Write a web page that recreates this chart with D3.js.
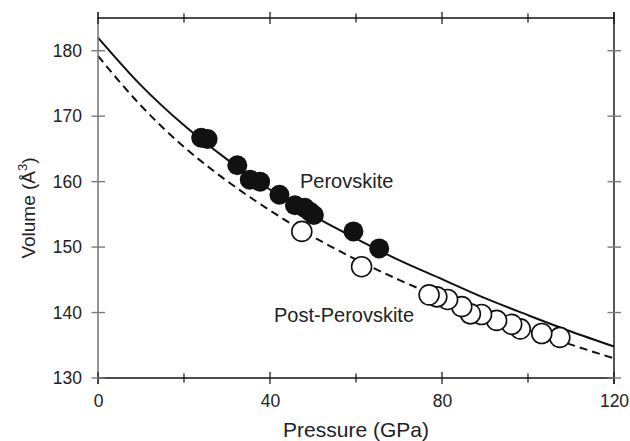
<!DOCTYPE html>
<html>
<head>
<meta charset="utf-8">
<script src="https://cdn.jsdelivr.net/npm/d3@7"></script>
<style>
  html, body { margin: 0; padding: 0; background: #fff; }
  svg { display: block; font-family: "Liberation Sans", Arial, sans-serif; }
</style>
</head>
<body>
<svg id="chart" width="630" height="441"></svg>
<script>
// Perovskite (filled) measurements: pressure GPa, volume Å^3
const pvPressure = [24.0, 25.5, 32.4, 35.3, 37.7, 42.2, 45.8, 48.1, 49.3, 50.2, 59.4, 65.4];
const pvVolume   = [166.7, 166.5, 162.5, 160.3, 160.0, 158.0, 156.4, 156.0, 155.4, 154.9, 152.4, 149.8];

// Post-perovskite (open) measurements
const ppvPressure = [47.4, 61.3, 77.0, 78.8, 81.3, 84.6, 86.6, 89.2, 92.7, 96.2, 98.2, 103.2, 107.4];
const ppvVolume   = [152.4, 147.0, 142.7, 142.4, 142.0, 140.9, 139.8, 139.7, 138.8, 138.2, 137.5, 136.8, 136.2];

// fitted curves
const curveP      = [0, 10, 20, 30, 40, 50, 60, 70, 80, 90, 100, 110, 120];
const pvCurveV    = [182.0, 174.7, 168.6, 163.4, 158.8, 154.8, 151.3, 148.0, 145.1, 142.2, 139.6, 137.1, 134.8];
const ppvCurveV   = [179.2, 171.6, 165.3, 160.1, 155.6, 151.6, 148.1, 145.0, 142.2, 139.6, 137.3, 135.1, 133.0];

const xTicks = [0, 20, 40, 60, 80, 100, 120];
const xLabels = [0, 40, 80, 120];
const yTicks = [130, 140, 150, 160, 170, 180];

const svg = d3.select("#chart");
const mLeft = 98, mRight = 614, mTop = 18, mBottom = 378;

const x = d3.scaleLinear().domain([0, 120]).range([mLeft, mRight]);
const y = d3.scaleLinear().domain([130, 185]).range([mBottom, mTop]);

const ink = "#222";
const grey = "#7a7a7a";

// curves
const line = d3.line().x(d => x(d[0])).y(d => y(d[1])).curve(d3.curveMonotoneX);
svg.append("path")
  .datum(d3.zip(curveP, pvCurveV))
  .attr("d", line)
  .attr("fill", "none").attr("stroke", "#111").attr("stroke-width", 2);
svg.append("path")
  .datum(d3.zip(curveP, ppvCurveV))
  .attr("d", line)
  .attr("fill", "none").attr("stroke", "#111").attr("stroke-width", 2)
  .attr("stroke-dasharray", "8,5");

// points (lower pressure drawn last so it sits on top)
const ppv = d3.zip(ppvPressure, ppvVolume).reverse();
svg.append("g").selectAll("circle")
  .data(ppv)
  .join("circle")
  .attr("cx", d => x(d[0]))
  .attr("cy", d => y(d[1]))
  .attr("r", 10)
  .attr("fill", "#fff")
  .attr("stroke", "#111")
  .attr("stroke-width", 1.6);

svg.append("g").selectAll("circle")
  .data(d3.zip(pvPressure, pvVolume))
  .join("circle")
  .attr("cx", d => x(d[0]))
  .attr("cy", d => y(d[1]))
  .attr("r", 10)
  .attr("fill", "#111");

// frame
svg.append("line").attr("x1", mLeft).attr("x2", mLeft).attr("y1", mTop - 6).attr("y2", mBottom + 6)
  .attr("stroke", grey).attr("stroke-width", 1.6);
svg.append("line").attr("x1", mRight).attr("x2", mRight).attr("y1", mTop - 6).attr("y2", mBottom + 6)
  .attr("stroke", "#111").attr("stroke-width", 1.4);
svg.append("line").attr("x1", mLeft).attr("x2", mRight).attr("y1", mTop).attr("y2", mTop)
  .attr("stroke", "#111").attr("stroke-width", 1.4);
svg.append("line").attr("x1", mLeft).attr("x2", mRight).attr("y1", mBottom).attr("y2", mBottom)
  .attr("stroke", "#111").attr("stroke-width", 1.4);

// x ticks crossing top and bottom lines
const tickG = svg.append("g").attr("stroke", "#111").attr("stroke-width", 1.2);
for (const yy of [mTop, mBottom]) {
  tickG.selectAll(null)
    .data(xTicks)
    .join("line")
    .attr("x1", d => x(d)).attr("x2", d => x(d))
    .attr("y1", d => yy - (d % 40 === 0 ? 6 : 4.5))
    .attr("y2", d => yy + (d % 40 === 0 ? 6 : 4.5));
}
// y ticks crossing left and right lines
const yTickG = svg.append("g").attr("stroke", grey).attr("stroke-width", 1.4);
for (const xx of [mLeft, mRight]) {
  yTickG.selectAll(null)
    .data(yTicks)
    .join("line")
    .attr("x1", xx - 6.5).attr("x2", xx + 7)
    .attr("y1", d => y(d)).attr("y2", d => y(d));
}

// tick labels through d3 axes
const xAxis = svg.append("g")
  .attr("transform", `translate(0,${mBottom})`)
  .call(d3.axisBottom(x).tickValues(xLabels).tickSize(0).tickPadding(17).tickFormat(d3.format("d")));
const yAxis = svg.append("g")
  .attr("transform", `translate(${mLeft},0)`)
  .call(d3.axisLeft(y).tickValues(yTicks).tickSize(0).tickPadding(16).tickFormat(d3.format("d")));
for (const a of [xAxis, yAxis]) {
  a.select(".domain").remove();
  a.selectAll("text")
    .attr("fill", ink)
    .style("font-family", "'Liberation Sans', Arial, sans-serif")
    .style("font-size", "17.5px");
}

// axis titles
svg.append("text")
  .attr("x", (mLeft + mRight) / 2).attr("y", 437)
  .attr("text-anchor", "middle")
  .attr("fill", ink)
  .style("font-size", "21px")
  .text("Pressure (GPa)");

const yTitle = svg.append("text")
  .attr("transform", "translate(35,208) rotate(-90)")
  .attr("text-anchor", "middle")
  .attr("fill", ink)
  .style("font-size", "19px");
yTitle.append("tspan").text("Volume (Å");
yTitle.append("tspan").attr("dy", -8).style("font-size", "13px").text("3");
yTitle.append("tspan").attr("dy", 8).text(")");

// annotations
svg.append("text")
  .attr("x", 300).attr("y", 188)
  .attr("fill", ink)
  .style("font-size", "20px")
  .text("Perovskite");
svg.append("text")
  .attr("x", 274).attr("y", 322)
  .attr("fill", ink)
  .style("font-size", "20px")
  .text("Post-Perovskite");
</script>
</body>
</html>
